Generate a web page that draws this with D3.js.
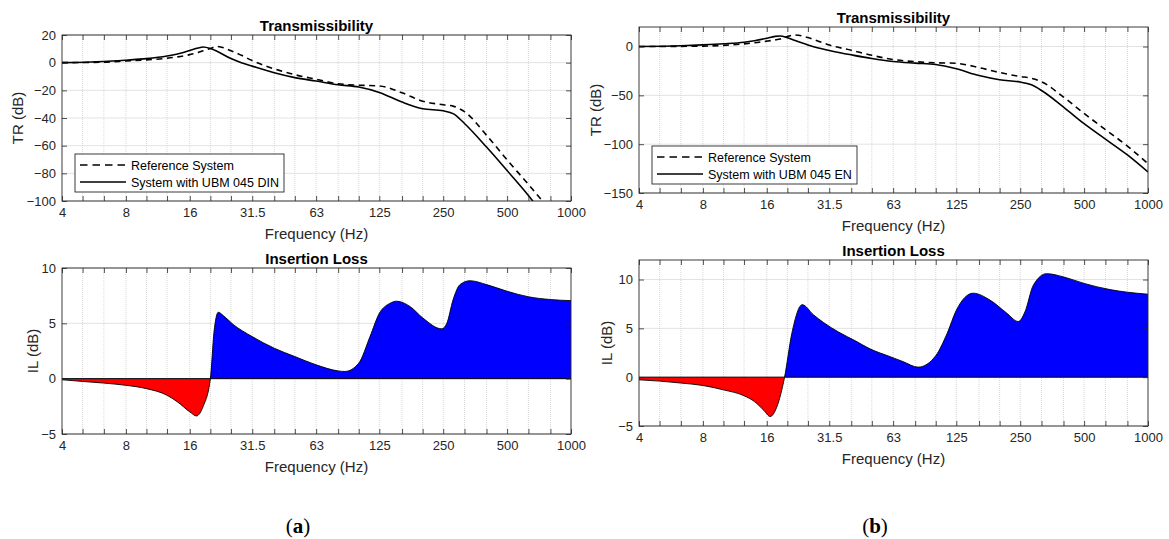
<!DOCTYPE html>
<html>
<head>
<meta charset="utf-8">
<title>Transmissibility and Insertion Loss</title>
<script src="https://cdn.jsdelivr.net/npm/d3@7"></script>
<style>
  body { margin: 0; background: #fff; }
  text { font-family: "Liberation Sans", Arial, Helvetica, sans-serif; fill: #262626; }
  .serif { font-family: "Liberation Serif", "Times New Roman", serif; fill: #000; }
</style>
</head>
<body>
<script>
// one-third octave bands (grid and tick marks)
var bandFreqs = [4, 5, 6.3, 8, 10, 12.5, 16, 20, 25, 31.5, 40, 50, 63, 80, 100, 125, 160, 200, 250, 315, 400, 500, 630, 800, 1000];
var labelFreqs = [4, 8, 16, 31.5, 63, 125, 250, 500, 1000];

// Transmissibility (dB)
var trFreq = [4, 6.3, 8, 10, 12.5, 14, 16, 17.5, 18.5, 20, 21.5, 25, 28, 31.5, 40, 50, 63, 80, 100, 125, 160, 200, 250, 280, 315, 400, 500, 630, 800, 1000];
var trRefA = [0, 0.4, 1.2, 2.0, 3.2, 4.2, 5.8, 7.3, 8.6, 10.2, 11.7, 8.6, 5.3, 1.5, -4.5, -8.7, -12.0, -15.3, -16.3, -16.8, -21.8, -27.9, -30.4, -31.6, -35.4, -52.5, -70.3, -88, -107, -126];
var trDinA = [0, 0.8, 1.8, 2.9, 4.8, 6.3, 8.8, 10.6, 11.3, 10.2, 8.2, 3.0, 0, -2.5, -7.3, -10.8, -13.3, -16, -17.6, -21.5, -28.5, -33.3, -34.8, -37, -44, -61, -78, -96, -117, -136];
var trRefB = [0, 0.2, 0.4, 1.2, 2.7, 3.8, 5.5, 6.8, 7.8, 10.2, 11.9, 9.2, 5.5, 1.5, -3.8, -9, -13.3, -15.5, -16.6, -17.2, -21.6, -26.6, -30.7, -32.4, -36, -51.8, -68.5, -85, -102, -120];
var trEnB = [0, 0.8, 1.7, 2.8, 4.4, 6.0, 8.5, 10.4, 10.8, 9.0, 6.5, 1.6, -1.5, -4.0, -8.5, -12.3, -15.3, -17, -18.4, -22.8, -29.7, -34, -36.4, -39, -45, -62, -79, -94.8, -111, -128.5];

// Insertion loss (dB)
var ilFreqA = [4, 5, 6.3, 8, 10, 12.5, 14, 16, 17.2, 18.5, 20, 20.8, 21.8, 23, 25.6, 31.5, 40, 50, 63, 80, 86, 100, 113, 125, 140, 151, 175, 200, 246, 260, 278, 300, 334, 400, 500, 630, 800, 1000];
var ilA = [-0.1, -0.25, -0.4, -0.6, -0.9, -1.5, -2.1, -3.0, -3.37, -2.5, 0, 4.2, 6.0, 5.7, 4.9, 3.8, 2.75, 2.0, 1.25, 0.7, 0.65, 1.4, 3.8, 5.9, 6.8, 7.0, 6.5, 5.5, 4.5, 5.0, 7.1, 8.5, 8.85, 8.5, 7.9, 7.4, 7.15, 7.05];
var ilFreqB = [4, 5, 6.3, 8, 10, 12.5, 14, 15.5, 16.6, 17.8, 19.4, 21, 23.5, 26.5, 29.6, 35, 42, 49, 61, 70, 82.7, 100, 113, 125, 150, 180, 215, 245, 263, 288, 333, 400, 500, 662, 800, 1000];
var ilB = [-0.27, -0.4, -0.6, -0.85, -1.3, -1.9, -2.5, -3.4, -4.03, -3.1, 0, 4.5, 7.43, 6.4, 5.6, 4.6, 3.7, 2.9, 2.1, 1.6, 1.03, 2.2, 4.45, 6.85, 8.6, 7.9, 6.6, 5.7, 6.67, 9.4, 10.6, 10.27, 9.6, 8.97, 8.7, 8.5];

var W = 1169, H = 539;
var svg = d3.select("body").append("svg").attr("width", W).attr("height", H);
var clipId = 0;

function panel(o) {
  var x = d3.scaleLog().domain([4, 1000]).range([o.left, o.right]);
  var y = d3.scaleLinear().domain(o.yDomain).range([o.bottom, o.top]);
  var g = svg.append("g");

  // grid
  g.selectAll(".hg").data(o.yTicks).enter().append("line")
    .attr("x1", o.left).attr("x2", o.right)
    .attr("y1", function(d) { return y(d); }).attr("y2", function(d) { return y(d); })
    .attr("stroke", "#e3e3e3").attr("stroke-width", 1);
  g.selectAll(".vg").data(bandFreqs.slice(1, -1)).enter().append("line")
    .attr("x1", function(d) { return x(d); }).attr("x2", function(d) { return x(d); })
    .attr("y1", o.top).attr("y2", o.bottom)
    .attr("stroke", "#cdcdcd").attr("stroke-width", 0.8).attr("stroke-dasharray", "1,1");

  var id = "clip" + (clipId++);
  g.append("clipPath").attr("id", id).append("rect")
    .attr("x", o.left).attr("y", o.top).attr("width", o.right - o.left).attr("height", o.bottom - o.top);

  var plot = g.append("g").attr("clip-path", "url(#" + id + ")");

  // axes
  function style(a) {
    a.attr("font-size", 13).attr("font-family", "'Liberation Sans', Arial, sans-serif").attr("color", "#262626");
    a.select(".domain").remove();
    a.selectAll(".tick line").attr("stroke-width", 0.8);
  }
  var fmt = function(d) { return labelFreqs.indexOf(d) >= 0 ? String(d) : ""; };
  g.append("g").attr("transform", "translate(0," + o.bottom + ")")
    .call(d3.axisBottom(x).tickValues(bandFreqs).tickFormat(fmt).tickSize(-5).tickPadding(7)).call(style);
  g.append("g").attr("transform", "translate(0," + o.top + ")")
    .call(d3.axisTop(x).tickValues(bandFreqs).tickFormat("").tickSize(-5)).call(style);
  g.append("g").attr("transform", "translate(" + o.left + ",0)")
    .call(d3.axisLeft(y).tickValues(o.yTicks).tickSize(-5).tickPadding(6)).call(style);
  g.append("g").attr("transform", "translate(" + o.right + ",0)")
    .call(d3.axisRight(y).tickValues(o.yTicks).tickFormat("").tickSize(-5)).call(style);

  // labels
  var cx = (o.left + o.right) / 2;
  g.append("text").attr("x", cx).attr("y", o.top - 4).attr("text-anchor", "middle")
    .attr("font-size", 15).attr("font-weight", "bold").style("fill", "#000").text(o.title);
  g.append("text").attr("x", cx).attr("y", o.bottom + 38).attr("text-anchor", "middle")
    .attr("font-size", 15).text("Frequency (Hz)");
  g.append("text").attr("transform", "translate(" + o.yLabelX + "," + ((o.top + o.bottom) / 2) + ") rotate(-90)")
    .attr("text-anchor", "middle").attr("font-size", 15).text(o.yLabel);

  return { g: g, plot: plot, x: x, y: y, o: o };
}

function drawTR(p, freqs, ref, sys, names, leg) {
  var line = d3.line().x(function(d) { return p.x(d[0]); }).y(function(d) { return p.y(d[1]); })
    .curve(d3.curveMonotoneX);
  p.plot.append("path").datum(d3.zip(freqs, ref)).attr("d", line)
    .attr("fill", "none").attr("stroke", "#000").attr("stroke-width", 1.6).attr("stroke-dasharray", "6,4.5");
  p.plot.append("path").datum(d3.zip(freqs, sys)).attr("d", line)
    .attr("fill", "none").attr("stroke", "#000").attr("stroke-width", 1.6);
  // box around axes
  p.g.append("rect").attr("x", p.o.left).attr("y", p.o.top)
    .attr("width", p.o.right - p.o.left).attr("height", p.o.bottom - p.o.top)
    .attr("fill", "none").attr("stroke", "#262626").attr("stroke-width", 0.9);

  var lg = p.g.append("g").attr("transform", "translate(" + leg.x + "," + leg.y + ")");
  lg.append("rect").attr("width", leg.w).attr("height", 38).attr("fill", "#fff")
    .attr("stroke", "#262626").attr("stroke-width", 0.9);
  [0, 1].forEach(function(i) {
    var yy = 11 + i * 17;
    lg.append("line").attr("x1", 5).attr("x2", 51).attr("y1", yy).attr("y2", yy)
      .attr("stroke", "#000").attr("stroke-width", 1.6)
      .attr("stroke-dasharray", i === 0 ? "7.5,5" : null);
    lg.append("text").attr("x", 56).attr("y", yy + 4.5).attr("font-size", 12.5)
      .style("fill", "#000").text(names[i]);
  });
}

function drawIL(p, freqs, vals) {
  var data = d3.zip(freqs, vals);
  var y0 = p.y(0);
  var area = d3.area().x(function(d) { return p.x(d[0]); }).y0(y0).y1(function(d) { return p.y(d[1]); })
    .curve(d3.curveMonotoneX);
  var line = d3.line().x(function(d) { return p.x(d[0]); }).y(function(d) { return p.y(d[1]); })
    .curve(d3.curveMonotoneX);
  var o = p.o;
  ["pos", "neg"].forEach(function(k) {
    var id = "clip" + (clipId++);
    p.g.append("clipPath").attr("id", id).append("rect")
      .attr("x", o.left).attr("width", o.right - o.left)
      .attr("y", k === "pos" ? o.top : y0)
      .attr("height", k === "pos" ? y0 - o.top : o.bottom - y0);
    p.plot.append("path").datum(data).attr("d", area)
      .attr("clip-path", "url(#" + id + ")")
      .attr("fill", k === "pos" ? "#0000ff" : "#ff0000");
  });
  p.plot.append("path").datum(data).attr("d", line)
    .attr("fill", "none").attr("stroke", "#000").attr("stroke-width", 0.9);
  p.plot.append("line").attr("x1", o.left).attr("x2", o.right).attr("y1", y0).attr("y2", y0)
    .attr("stroke", "#000").attr("stroke-width", 1);
  p.g.append("rect").attr("x", o.left).attr("y", o.top)
    .attr("width", o.right - o.left).attr("height", o.bottom - o.top)
    .attr("fill", "none").attr("stroke", "#262626").attr("stroke-width", 0.9);
}

var pA1 = panel({ left: 62, right: 571, top: 35, bottom: 201, yDomain: [-100, 20],
  yTicks: [-100, -80, -60, -40, -20, 0, 20], title: "Transmissibility", yLabel: "TR (dB)", yLabelX: 23 });
drawTR(pA1, trFreq, trRefA, trDinA, ["Reference System", "System with UBM 045 DIN"], { x: 75, y: 154, w: 209 });

var pA2 = panel({ left: 62, right: 571, top: 268, bottom: 434, yDomain: [-5, 10],
  yTicks: [-5, 0, 5, 10], title: "Insertion Loss", yLabel: "IL (dB)", yLabelX: 38 });
drawIL(pA2, ilFreqA, ilA);

var pB1 = panel({ left: 639, right: 1148, top: 27, bottom: 193, yDomain: [-150, 20],
  yTicks: [-150, -100, -50, 0], title: "Transmissibility", yLabel: "TR (dB)", yLabelX: 601 });
drawTR(pB1, trFreq, trRefB, trEnB, ["Reference System", "System with UBM 045 EN"], { x: 652, y: 146, w: 205 });

var pB2 = panel({ left: 639, right: 1148, top: 260, bottom: 426, yDomain: [-5, 12],
  yTicks: [-5, 0, 5, 10], title: "Insertion Loss", yLabel: "IL (dB)", yLabelX: 612 });
drawIL(pB2, ilFreqB, ilB);

// sub-figure captions
[["a", 298], ["b", 875]].forEach(function(c) {
  var t = svg.append("text").attr("class", "serif").attr("x", c[1]).attr("y", 533)
    .attr("text-anchor", "middle").attr("font-size", 21);
  t.append("tspan").text("(");
  t.append("tspan").attr("font-weight", "bold").text(c[0]);
  t.append("tspan").text(")");
});
</script>
</body>
</html>
